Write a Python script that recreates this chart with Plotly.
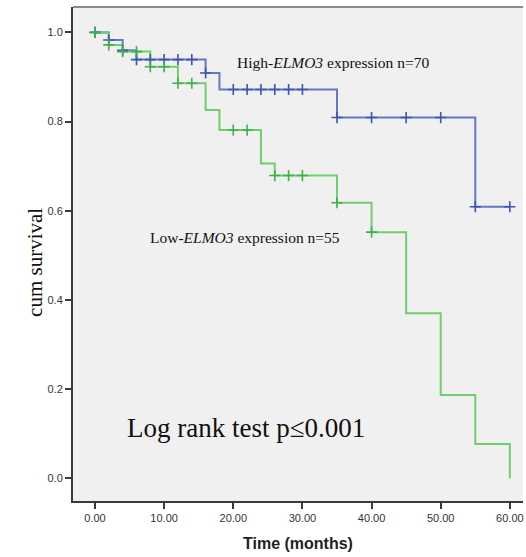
import numpy as np
import plotly.graph_objects as go

# High-ELMO3 group (step times, survival after each step)
high_times = [0, 2, 4, 6, 16, 18, 35, 55, 60]
high_surv = [1.0, 0.983, 0.960, 0.939, 0.909, 0.872, 0.809, 0.609, 0.609]
high_censored = [0, 2, 4, 6, 8, 10, 12, 14, 16, 20, 22, 24, 26, 28, 30, 35, 40, 45, 50, 55, 60]

# Low-ELMO3 group
low_times = [0, 2, 4, 8, 12, 16, 18, 24, 26, 35, 40, 45, 50, 55, 60]
low_surv = [1.0, 0.972, 0.957, 0.923, 0.886, 0.826, 0.781, 0.706, 0.679, 0.618, 0.552, 0.370, 0.187, 0.077, 0.0]
low_censored = [0, 2, 4, 6, 8, 10, 12, 14, 20, 22, 26, 28, 30, 35, 40]

x_ticks = [0, 10, 20, 30, 40, 50, 60]
y_ticks = [0.0, 0.2, 0.4, 0.6, 0.8, 1.0]

BLUE = "#6278c9"
BLUE_D = "#3e55b0"
GREEN = "#6dcf6d"
GREEN_D = "#3fb04a"


def step_at(times, surv, t):
    idx = np.searchsorted(np.array(times), t, side="right") - 1
    return surv[idx]


fig = go.Figure()
fig.add_trace(go.Scatter(x=high_times, y=high_surv, mode="lines",
                         line=dict(color=BLUE, width=2, shape="hv"), showlegend=False))
fig.add_trace(go.Scatter(x=low_times, y=low_surv, mode="lines",
                         line=dict(color=GREEN, width=2, shape="hv"), showlegend=False))
fig.add_trace(go.Scatter(x=high_censored, y=[step_at(high_times, high_surv, t) for t in high_censored],
                         mode="markers", showlegend=False,
                         marker=dict(symbol="cross-thin", size=8, line=dict(color=BLUE_D, width=1.6))))
fig.add_trace(go.Scatter(x=low_censored, y=[step_at(low_times, low_surv, t) for t in low_censored],
                         mode="markers", showlegend=False,
                         marker=dict(symbol="cross-thin", size=8, line=dict(color=GREEN_D, width=1.6))))

serif = "Liberation Serif, Times New Roman, serif"
sans = "Liberation Sans, Arial, sans-serif"

fig.update_layout(
    width=526, height=557,
    margin=dict(l=73, r=3, t=7, b=56),
    paper_bgcolor="white",
    plot_bgcolor="#f0f0f0",
    xaxis=dict(range=[-3.18, 61.9], tickvals=x_ticks, ticktext=[f"{v:.2f}" for v in x_ticks],
               showgrid=False, zeroline=False, showline=True, linecolor="#3a3a3a", linewidth=2,
               ticks="outside", ticklen=6, tickwidth=2, tickcolor="#3a3a3a",
               tickfont=dict(family=sans, size=11, color="#333")),
    yaxis=dict(range=[-0.051, 1.057], tickvals=y_ticks, ticktext=[f"{v:.1f}" for v in y_ticks],
               showgrid=False, zeroline=False, showline=True, linecolor="#3a3a3a", linewidth=2,
               ticks="outside", ticklen=6, tickwidth=2, tickcolor="#3a3a3a",
               tickfont=dict(family=sans, size=11, color="#333")),
    shapes=[dict(type="line", xref="paper", yref="paper", x0=0, x1=1, y0=1, y1=1,
                 line=dict(color="#8c8c8c", width=2))],
    annotations=[
        dict(text="High-<i>ELMO3</i> expression n=70", x=20.2, y=0.933, xref="x", yref="y",
             xanchor="left", yanchor="middle", showarrow=False,
             font=dict(family=serif, size=15.5, color="#111")),
        dict(text="Low-<i>ELMO3</i> expression n=55", x=7.66, y=0.539, xref="x", yref="y",
             xanchor="left", yanchor="middle", showarrow=False,
             font=dict(family=serif, size=15.5, color="#111")),
        dict(text="Log rank test p≤0.001", x=4.34, y=0.113, xref="x", yref="y",
             xanchor="left", yanchor="middle", showarrow=False,
             font=dict(family=serif, size=27, color="#111")),
        dict(text="cum survival", x=-0.0844, y=0.483, xref="paper", yref="y",
             xanchor="center", yanchor="middle", textangle=-90, showarrow=False,
             font=dict(family=serif, size=21, color="#111")),
        dict(text="<b>Time (months)</b>", x=0.5, y=-0.087, xref="paper", yref="paper",
             xanchor="center", yanchor="middle", showarrow=False,
             font=dict(family=sans, size=16, color="#222")),
    ],
)

fig.write_html("out.html")
